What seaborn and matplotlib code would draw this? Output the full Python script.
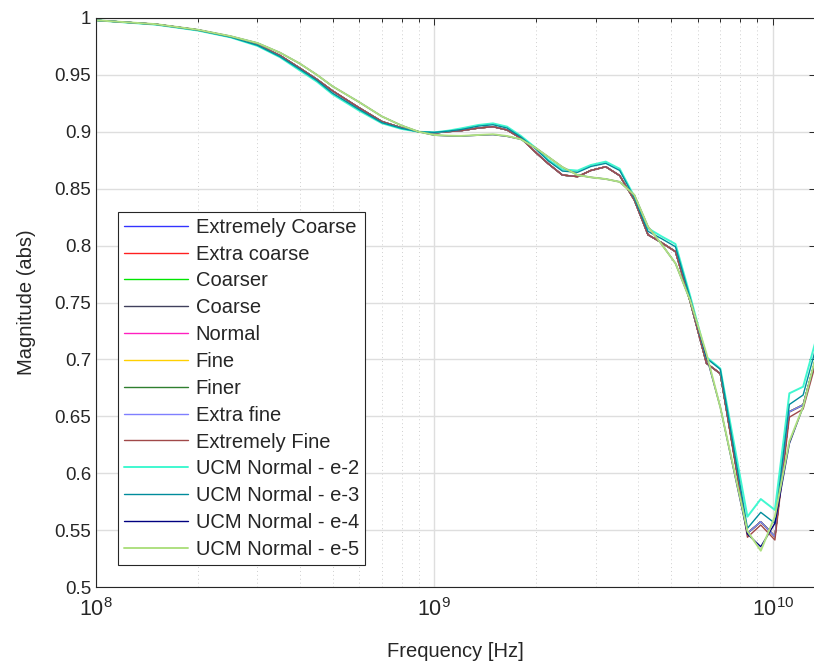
import numpy as np
import pandas as pd
import matplotlib
matplotlib.use("Agg")
import matplotlib.pyplot as plt
import seaborn as sns
from matplotlib.ticker import FixedLocator, LogLocator, NullFormatter

# Frequency sweep (GHz)
freq_ghz = [0.1, 0.15, 0.2, 0.25, 0.3, 0.35, 0.4, 0.45, 0.5, 0.6,
            0.7, 0.8, 0.9, 1.0, 1.1, 1.2, 1.35, 1.49, 1.64, 1.8,
            2.0, 2.17, 2.39, 2.65, 2.9, 3.21, 3.53, 3.9, 4.28, 4.7,
            5.16, 5.7, 6.37, 7.0, 8.42, 9.22, 10.15, 11.2, 12.3, 13.5]

# |S| magnitude for the standard mesh presets
mesh_mag = [0.998, 0.9945, 0.9895, 0.9835, 0.9765, 0.967, 0.956, 0.946, 0.936, 0.921,
            0.909, 0.9035, 0.900, 0.899, 0.9002, 0.901, 0.9033, 0.9045, 0.9016, 0.8945,
            0.8815, 0.872, 0.862, 0.8606, 0.866, 0.8693, 0.8615, 0.840, 0.8095, 0.8025,
            0.7947, 0.751, 0.6966, 0.6875, 0.5472, 0.5574, 0.5443, 0.654, 0.660, 0.704]

ext_fine_mag = [0.998, 0.9945, 0.9895, 0.9835, 0.9765, 0.967, 0.956, 0.946, 0.936, 0.921,
                0.909, 0.9035, 0.900, 0.899, 0.9002, 0.901, 0.9033, 0.9045, 0.9016, 0.8945,
                0.8815, 0.872, 0.862, 0.8606, 0.866, 0.8693, 0.8615, 0.840, 0.8095, 0.8025,
                0.7947, 0.751, 0.6966, 0.6875, 0.5437, 0.5545, 0.5413, 0.6492, 0.6564, 0.700]

# User-controlled mesh (Normal) with different tolerances
ucm_e2 = [0.998, 0.9942, 0.989, 0.983, 0.9755, 0.9655, 0.954, 0.944, 0.933, 0.9185,
          0.9075, 0.9025, 0.900, 0.8995, 0.901, 0.903, 0.906, 0.9074, 0.9045, 0.8965,
          0.8855, 0.8755, 0.867, 0.8659, 0.8708, 0.8738, 0.8675, 0.843, 0.8152, 0.808,
          0.8014, 0.756, 0.702, 0.692, 0.5618, 0.5773, 0.5677, 0.6702, 0.676, 0.720]

ucm_e3 = [0.998, 0.9943, 0.9892, 0.9832, 0.976, 0.966, 0.955, 0.945, 0.934, 0.9195,
          0.908, 0.903, 0.900, 0.8995, 0.9006, 0.902, 0.905, 0.9062, 0.9033, 0.8955,
          0.8845, 0.8745, 0.8655, 0.8644, 0.8695, 0.8723, 0.866, 0.842, 0.8125, 0.806,
          0.799, 0.754, 0.701, 0.6913, 0.5516, 0.5656, 0.556, 0.6604, 0.6687, 0.713]

ucm_e4 = [0.998, 0.9946, 0.9897, 0.984, 0.978, 0.9695, 0.960, 0.950, 0.940, 0.926,
          0.9135, 0.9055, 0.900, 0.897, 0.8964, 0.8962, 0.897, 0.8975, 0.896, 0.8935,
          0.8855, 0.878, 0.869, 0.862, 0.860, 0.8585, 0.856, 0.8445, 0.8166, 0.801,
          0.7844, 0.752, 0.703, 0.658, 0.5466, 0.5354, 0.556, 0.626, 0.6584, 0.705]

ucm_e5 = [0.998, 0.9946, 0.9897, 0.984, 0.978, 0.9695, 0.960, 0.950, 0.940, 0.926,
          0.9135, 0.9055, 0.900, 0.8972, 0.8966, 0.8964, 0.8972, 0.8978, 0.8963, 0.8935,
          0.8855, 0.878, 0.869, 0.862, 0.860, 0.8585, 0.856, 0.8445, 0.8166, 0.801,
          0.7844, 0.752, 0.705, 0.658, 0.549, 0.5319, 0.562, 0.628, 0.6584, 0.706]

series_names = ["Extremely Coarse", "Extra coarse", "Coarser", "Coarse", "Normal",
                "Fine", "Finer", "Extra fine", "Extremely Fine",
                "UCM Normal - e-2", "UCM Normal - e-3", "UCM Normal - e-4",
                "UCM Normal - e-5"]
series_values = [mesh_mag, mesh_mag, mesh_mag, mesh_mag, mesh_mag,
                 mesh_mag, mesh_mag, mesh_mag, ext_fine_mag,
                 ucm_e2, ucm_e3, ucm_e4, ucm_e5]
series_colors = ["#3333ff", "#ff2020", "#00e600", "#40405c", "#ff20c0",
                 "#ffd000", "#2f7f2f", "#7f7fff", "#a04848",
                 "#40f8d0", "#008c9c", "#000080", "#aee080"]
series_widths = [1.0, 1.0, 1.0, 1.0, 1.0, 1.0, 1.0, 1.0, 1.0, 1.4, 1.0, 1.0, 1.4]

y_ticks = [0.5, 0.55, 0.6, 0.65, 0.7, 0.75, 0.8, 0.85, 0.9, 0.95, 1.0]
y_tick_labels = ["0.5", "0.55", "0.6", "0.65", "0.7", "0.75", "0.8", "0.85", "0.9", "0.95", "1"]

sns.set_style("white")
plt.rcParams["font.family"] = ["Liberation Sans", "DejaVu Sans"]
plt.rcParams["mathtext.default"] = "regular"

fig = plt.figure(figsize=(8.14, 6.68), dpi=100)
W, H = 814, 668
ax_left, ax_right, ax_top, ax_bottom = 96, 815.5, 18, 587
ax = fig.add_axes([ax_left / W, (H - ax_bottom) / H,
                   (ax_right - ax_left) / W, (ax_bottom - ax_top) / H])

freq_hz = np.array(freq_ghz) * 1e9
for name, vals, col, lw in zip(series_names, series_values, series_colors, series_widths):
    df = pd.DataFrame({"Frequency": freq_hz, "Magnitude": vals})
    sns.lineplot(data=df, x="Frequency", y="Magnitude", color=col, linewidth=lw,
                 label=name, ax=ax, sort=False, estimator=None)

ax.set_xscale("log")
ax.set_xlim(1e8, 1.338e10)
ax.set_ylim(0.5, 1.0)
ax.yaxis.set_major_locator(FixedLocator(y_ticks))
ax.set_yticklabels(y_tick_labels)
ax.xaxis.set_major_locator(LogLocator(base=10, numticks=10))
ax.xaxis.set_minor_locator(LogLocator(base=10, subs=np.arange(2, 10), numticks=20))
ax.xaxis.set_minor_formatter(NullFormatter())

ax.grid(True, which="major", color="#dedede", linewidth=1.0, linestyle="-")
ax.grid(True, which="minor", axis="x", color="#cfcfcf", linewidth=0.7, linestyle=(0, (1, 3)))
ax.set_axisbelow(True)

ax.tick_params(which="both", direction="in", top=True, right=True, colors="#262626",
               labelsize=13.5, width=0.7)
ax.tick_params(which="major", length=5)
ax.tick_params(which="minor", length=3)
ax.tick_params(axis="x", which="major", pad=8, labelsize=15.5)
for s in ax.spines.values():
    s.set_color("#262626")
    s.set_linewidth(0.8)

ax.set_xlabel("Frequency [Hz]", fontsize=14.5, color="#262626", labelpad=15)
ax.set_ylabel("Magnitude (abs)", fontsize=14.5, color="#262626", labelpad=13)

leg = ax.legend(loc="lower left", bbox_to_anchor=((118 - ax_left) / (ax_right - ax_left),
                                                  (ax_bottom - 565) / (ax_bottom - ax_top)),
                fontsize=14.5, frameon=True, fancybox=False, framealpha=1,
                edgecolor="#262626", handlelength=3.2, handletextpad=0.35,
                labelspacing=0.39, borderpad=0.3, borderaxespad=0)
leg.get_frame().set_linewidth(0.8)

fig.savefig("out.png", dpi=100)
